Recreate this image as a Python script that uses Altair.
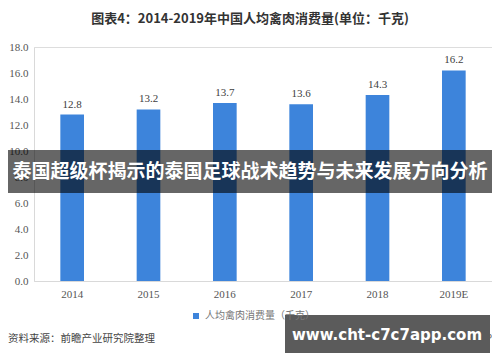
import altair as alt
import pandas as pd

years = ["2014", "2015", "2016", "2017", "2018", "2019E"]
values = [12.8, 13.2, 13.7, 13.6, 14.3, 16.2]
y_ticks = [0, 2, 4, 6, 8, 10, 12, 14, 16, 18]
series_name = "人均禽肉消费量（千克）"
title_text = "图表4：2014-2019年中国人均禽肉消费量(单位：千克)"
source_text = "资料来源：前瞻产业研究院整理"
brand_text = "@前瞻经济学人APP"
banner_text = "泰国超级杯揭示的泰国足球战术趋势与未来发展方向分析"
site_text = "www.cht-c7c7app.com"

df = pd.DataFrame({"year": years, "value": values, "series": [series_name] * len(years)})
one = pd.DataFrame({"k": [0]})

serif = "Liberation Serif"
sans = "Noto Sans CJK SC"

x = alt.X("year:N", sort=years, title=None,
          scale=alt.Scale(paddingInner=0.69, paddingOuter=0.345),
          axis=alt.Axis(labelAngle=0, labelFont=serif, labelFontSize=11, labelColor="#555555",
                        domainColor="#d9d9d9", ticks=False, labelPadding=7))
y = alt.Y("value:Q", title=None,
          scale=alt.Scale(domain=[0, 18], nice=False),
          axis=alt.Axis(values=y_ticks, format=".1f", grid=False,
                        labelOverlap=False, labelBound=False,
                        labelFont=serif, labelFontSize=11, labelColor="#555555",
                        domainColor="#d9d9d9", ticks=False, labelPadding=6))

bars = alt.Chart(df).mark_bar(color="#3d84db").encode(
    x=x, y=y,
    color=alt.Color("series:N", scale=alt.Scale(range=["#3d84db"]),
                    legend=alt.Legend(title=None, orient="none", legendX=157, legendY=264,
                                      symbolType="square", symbolSize=36,
                                      labelFont=sans, labelFontSize=10, labelColor="#777777")),
)

labels = alt.Chart(df).mark_text(baseline="bottom", dy=-5, font=serif, fontSize=11,
                                 color="#404040").encode(
    x=x, y=y, text=alt.Text("value:Q", format=".1f"))

title = alt.Chart(one).mark_text(font=sans, fontSize=13, fontWeight="bold", color="#333333",
                                 align="center", baseline="middle").encode(
    x=alt.value(216), y=alt.value(-28), text=alt.value(title_text))

source = alt.Chart(one).mark_text(font=sans, fontSize=10.5, color="#444444",
                                  align="left", baseline="middle").encode(
    x=alt.value(-26), y=alt.value(292), text=alt.value(source_text))

brand = alt.Chart(one).mark_text(font=sans, fontSize=10, color="#666666",
                                 align="right", baseline="middle").encode(
    x=alt.value(458), y=alt.value(292), text=alt.value(brand_text))

band = alt.Chart(one).mark_rect(color="black", opacity=0.6).encode(
    x=alt.value(-26), x2=alt.value(458), y=alt.value(103), y2=alt.value(146))

band_txt = alt.Chart(one).mark_text(font=sans, fontSize=19, fontWeight="bold", color="white",
                                    align="center", baseline="middle").encode(
    x=alt.value(216), y=alt.value(125), text=alt.value(banner_text))

box = alt.Chart(one).mark_rect(color="#5b5b5b").encode(
    x=alt.value(251), x2=alt.value(456), y=alt.value(268), y2=alt.value(306))

box_txt = alt.Chart(one).mark_text(font="DejaVu Sans", fontSize=15, fontWeight="bold", color="white",
                                   align="center", baseline="middle").encode(
    x=alt.value(353), y=alt.value(288), text=alt.value(site_text))

chart = alt.layer(bars, labels, title, source, brand, band, band_txt, box, box_txt).properties(
    width=458, height=234,
    padding={"left": 26, "top": 39, "right": 0, "bottom": 73},
    autosize=alt.AutoSizeParams(type="none"),
).configure_view(stroke=None).configure_axis(labelOverlap=False).configure(background="white")

chart.save("out.html", embed_options={"renderer": "svg", "actions": False})
